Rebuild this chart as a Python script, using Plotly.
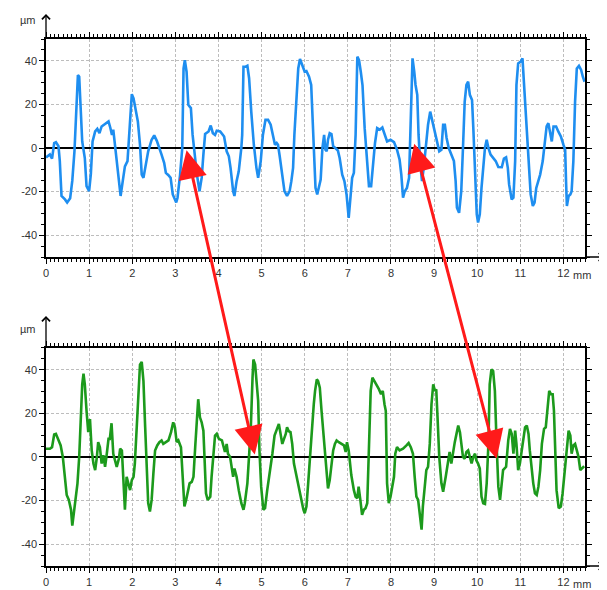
import plotly.graph_objects as go

# ---------------- data ----------------
top_x = [0, 0.09, 0.14, 0.19, 0.23, 0.29, 0.32, 0.36, 0.44, 0.49, 0.56, 0.61, 0.66, 0.70, 0.74, 0.77, 0.80, 0.84, 0.90, 0.94,
         1.00, 1.04, 1.08, 1.14, 1.19, 1.24, 1.29, 1.35, 1.41, 1.45, 1.49, 1.53, 1.56, 1.60, 1.64, 1.69, 1.73, 1.78, 1.83, 1.89,
         1.93, 1.99, 2.03, 2.08, 2.13, 2.18, 2.22, 2.26, 2.32, 2.37, 2.45, 2.51, 2.57, 2.63, 2.68, 2.74, 2.78, 2.84, 2.89, 2.94,
         3.02, 3.05, 3.11, 3.16, 3.19, 3.22, 3.26, 3.30, 3.36, 3.40, 3.44, 3.50, 3.56, 3.61, 3.65, 3.69, 3.77, 3.82, 3.87, 3.92,
         3.96, 4.04, 4.13, 4.19, 4.24, 4.28, 4.34, 4.37, 4.42, 4.47, 4.53, 4.55, 4.58, 4.63, 4.67, 4.71, 4.76, 4.82, 4.88, 4.92,
         4.98, 5.03, 5.09, 5.15, 5.21, 5.26, 5.31, 5.35, 5.38, 5.42, 5.48, 5.53, 5.59, 5.65, 5.69, 5.73, 5.76, 5.81, 5.85, 5.89,
         5.94, 6.00, 6.04, 6.10, 6.15, 6.18, 6.21, 6.25, 6.29, 6.33, 6.37, 6.41, 6.45, 6.48, 6.51, 6.54, 6.58, 6.62, 6.66, 6.71,
         6.77, 6.81, 6.87, 6.92, 6.97, 7.02, 7.06, 7.10, 7.14, 7.18, 7.22, 7.26, 7.30, 7.34, 7.39, 7.44, 7.49, 7.54, 7.59, 7.63,
         7.68, 7.74, 7.80, 7.85, 7.91, 7.99, 8.07, 8.14, 8.20, 8.24, 8.28, 8.32, 8.37, 8.42, 8.46, 8.50, 8.54, 8.57, 8.61, 8.64,
         8.68, 8.72, 8.76, 8.81, 8.86, 8.91, 8.96, 9.02, 9.07, 9.12, 9.17, 9.21, 9.25, 9.29, 9.34, 9.40, 9.46, 9.50, 9.53, 9.58,
         9.63, 9.67, 9.71, 9.75, 9.79, 9.83, 9.88, 9.91, 9.95, 9.99, 10.02, 10.06, 10.10, 10.14, 10.18, 10.22, 10.26, 10.31, 10.37, 10.43,
         10.49, 10.57, 10.62, 10.67, 10.71, 10.74, 10.80, 10.84, 10.88, 10.91, 10.95, 11.01, 11.05, 11.09, 11.13, 11.19, 11.24, 11.29, 11.33, 11.37,
         11.41, 11.46, 11.52, 11.57, 11.61, 11.65, 11.69, 11.73, 11.77, 11.83, 11.88, 11.94, 12.00, 12.04, 12.06, 12.08, 12.12, 12.16, 12.19, 12.23,
         12.27, 12.31, 12.36, 12.41, 12.45, 12.49]
top_y = [-4.3, -3, -4.9, 2.3, 2.7, 0.8, -6, -22, -23.6, -25, -23, -15, -1.5, 16.7, 33.5, 32.7, 16.7, 3, -4.6, -17.5,
         -19.8, -12, 3, 7.6, 8.8, 6.8, 9.9, 10.7, 11.4, 12.2, 9.4, 6, 8.4, 1.5, -6.8, -15.2, -22, -15.2, -8.4, -6,
         6, 24.7, 22.8, 16.7, 12.2, 1.5, -12.2, -13.7, -7.6, -1.5, 3.8, 5.8, 3.3, -0.8, -3, -6.8, -11.4, -12.5, -13.7, -21.3,
         -25, -22.8, -12.2, 0, 36.5, 40.3, 35, 19.8, 18.3, 6, -1.5, -12.2, -19.8, -13.7, -3, 6.4, 7.6, 10.3, 6.8, 6,
         7.9, 7.6, 5.3, -1.5, -3.8, -9.1, -19.8, -22, -15.2, -10.7, 0, 6, 37.3, 37.3, 37.7, 32, 16.7, 1.5, -9.1, -13.7,
         -6, 6, 12.9, 12.9, 10.7, 6, 1.5, 2.3, 1.5, -3.8, -12.2, -19.8, -22, -19.8, -15.2, -9.1, 6, 21.3, 36.5, 40.8,
         38, 35, 35.3, 32.7, 28.9, 13.7, -4.6, -18.3, -21.3, -18.3, -14.5, 0, 6, -0.8, -1.5, 3.8, 6.8, 6.4, 0.8, 0,
         -1.2, -4.6, -12.2, -15.2, -21.3, -32, -24.4, -13.7, -11.4, 6, 41.9, 40.3, 35, 28.9, 9.1, -6, -17.5, -17.5, -6, 2.3,
         9.1, 8.4, 9.4, 6, 3, 3.8, 2.7, -0.8, -5.3, -12.2, -22.8, -19.8, -18.3, -13.7, 21.3, 41.1, 35, 28.9, 24.4, 6,
         -7.6, -15.2, -9.1, 1.5, 10.7, 16.7, 12.2, 6, 1.5, -1.5, -0.8, 10.7, 10.7, 4.6, 0, -3, -6, -15.2, -27.4, -29.7,
         -19.8, 0, 21.3, 28.9, 30.4, 24.4, 22, 9.1, -13.7, -30.4, -34.2, -30.4, -18.3, -9.1, 0, 3.8, 0, -3, -4.6, -6,
         -8.7, -8.8, -4.9, -4.3, -9.1, -16.7, -23.6, -22.8, -6, 28.9, 38.8, 39.6, 41.1, 28.9, 12.2, -6, -21.3, -26.6, -25, -18.3,
         -15.2, -12.2, -6, 1.5, 9.9, 11.4, 7.6, 3, 9.9, 9.9, 7.6, 5.3, 1.5, -0.8, -15.2, -26.6, -22, -21.3, -19.8, -6,
         21.3, 36.5, 37.7, 35.8, 32.7, 30.4]

bottom_x = [0, 0.09, 0.14, 0.19, 0.23, 0.29, 0.34, 0.39, 0.42, 0.44, 0.48, 0.53, 0.58, 0.61, 0.65, 0.70, 0.73, 0.77, 0.80, 0.84,
            0.87, 0.90, 0.94, 0.98, 1.02, 1.06, 1.10, 1.14, 1.18, 1.21, 1.25, 1.29, 1.33, 1.37, 1.41, 1.45, 1.48, 1.52, 1.56, 1.60,
            1.64, 1.69, 1.72, 1.76, 1.79, 1.83, 1.87, 1.91, 1.95, 1.99, 2.03, 2.06, 2.10, 2.14, 2.18, 2.22, 2.26, 2.30, 2.34, 2.37,
            2.41, 2.45, 2.49, 2.53, 2.58, 2.63, 2.68, 2.72, 2.78, 2.84, 2.90, 2.95, 2.99, 3.03, 3.07, 3.11, 3.13, 3.17, 3.21, 3.25,
            3.29, 3.33, 3.38, 3.42, 3.46, 3.49, 3.53, 3.57, 3.61, 3.65, 3.69, 3.71, 3.75, 3.81, 3.84, 3.88, 3.92, 3.96, 4.01, 4.08,
            4.11, 4.15, 4.19, 4.22, 4.27, 4.31, 4.34, 4.37, 4.42, 4.47, 4.53, 4.58, 4.61, 4.67, 4.71, 4.75, 4.79, 4.81, 4.85, 4.88,
            4.92, 4.95, 4.99, 5.04, 5.08, 5.13, 5.19, 5.25, 5.30, 5.35, 5.40, 5.44, 5.48, 5.52, 5.56, 5.59, 5.63, 5.67, 5.71, 5.75,
            5.81, 5.86, 5.92, 5.97, 6.00, 6.04, 6.08, 6.12, 6.16, 6.21, 6.24, 6.28, 6.31, 6.35, 6.39, 6.43, 6.47, 6.51, 6.54, 6.58,
            6.62, 6.66, 6.70, 6.74, 6.79, 6.85, 6.91, 6.95, 6.98, 7.02, 7.08, 7.14, 7.18, 7.22, 7.25, 7.29, 7.33, 7.37, 7.41, 7.45,
            7.49, 7.53, 7.57, 7.62, 7.67, 7.72, 7.77, 7.81, 7.85, 7.88, 7.91, 7.95, 7.99, 8.03, 8.07, 8.10, 8.14, 8.20, 8.28, 8.36,
            8.41, 8.46, 8.51, 8.55, 8.59, 8.63, 8.67, 8.71, 8.74, 8.78, 8.82, 8.86, 8.90, 8.94, 8.98, 9.02, 9.05, 9.08, 9.12, 9.17,
            9.21, 9.27, 9.33, 9.36, 9.40, 9.44, 9.48, 9.52, 9.56, 9.60, 9.64, 9.67, 9.71, 9.75, 9.79, 9.83, 9.87, 9.91, 9.95, 9.98,
            10.02, 10.06, 10.10, 10.14, 10.18, 10.22, 10.26, 10.29, 10.33, 10.37, 10.41, 10.45, 10.49, 10.53, 10.57, 10.60, 10.67, 10.72, 10.76, 10.80,
            10.84, 10.88, 10.91, 10.95, 10.99, 11.03, 11.07, 11.11, 11.15, 11.19, 11.22, 11.26, 11.30, 11.34, 11.38, 11.42, 11.46, 11.50, 11.55, 11.59,
            11.63, 11.67, 11.71, 11.75, 11.78, 11.81, 11.84, 11.89, 11.94, 11.98, 12.02, 12.06, 12.12, 12.16, 12.19, 12.23, 12.27, 12.31, 12.35, 12.39,
            12.43, 12.48]
bottom_y = [3.8, 3.8, 4.5, 10.3, 10.6, 7.6, 5.3, 0, -5.3, -9.1, -17.4, -19.7, -24.2, -31.5, -25.8, -18.2, -12.1, 0, 15.2, 33.3,
            38.2, 33.3, 21.2, 11.4, 17.4, 3, -3, -6, 0, 6.8, 4.5, -3, 0.8, -4.5, 1.5, 8.3, 8.3, 15.5, 1.5, -1.5,
            -4.5, -0.8, 3.8, 3, -12.1, -24.2, -9.1, -12.1, -15.2, -10.6, -9.1, -3, 13.6, 31.8, 42.4, 43.6, 34.8, 13.6, -6, -21.2,
            -25, -19.7, -7.6, 3, 5.3, 6.8, 7.6, 6, 6.8, 7.6, 11.4, 15.9, 13.6, 6.8, 7.6, 6, 4.5, -9.1, -22.7, -19.7,
            -15.2, -12.1, -11.4, -9.1, 4.5, 13.6, 26.5, 18.2, 15.9, 12.1, -6, -16.7, -19.7, -18.2, -9.1, 1.5, 9.8, 10.6, 8.3, 7.6,
            5.3, 2.3, 6, 1.5, 0, -6, -9.1, -5.3, -9.1, -15.2, -21.2, -24.2, -21.2, -12.1, 0, 13.6, 36.4, 44.7, 42.4, 34.8,
            25.8, 3, -13.6, -24.2, -23.5, -15.2, -7.6, 1.5, 9.8, 12.9, 15.2, 10.6, 6, 8.3, 10.6, 13.6, 11.8, 11.4, 6, -3,
            -9.1, -13.6, -19.7, -24.2, -25.8, -22.7, -12.1, 0, 13.6, 24.2, 30.3, 35.6, 34.8, 31.8, 21.2, 10.6, 1.5, -9.1, -14.4, -10.6,
            -3, 3, 6, 7.6, 6.8, 6, 5.3, 2.3, 6.8, 3, -8.3, -15.2, -18.2, -18.9, -13.6, -19.7, -26.5, -24.2, -23.5, -21.2,
            6, 30.3, 36.4, 34.8, 32.6, 31.1, 28.8, 30.3, 24.2, 21.2, -12.1, -21.2, -18.2, -13.6, -9.1, 1.5, 4.5, 3, 3.8, 5.3,
            6.4, 4.5, 1.5, -9.1, -18.2, -19.7, -25.8, -33.3, -22.7, -12.1, -6, -4.5, 6, 24.2, 33.3, 30.3, 31.1, 18.2, 0, -12.1,
            -15.9, -9.1, 0, 2.3, -3, 3, 6.8, 10.6, 14.4, 11.4, 6, 0, -0.8, 2.3, 3, -0.8, -3, 0, 1.5, -1.5,
            -3, -5.3, -18.2, -21.2, -21.5, -12.1, 6, 33.3, 40.2, 39.4, 30.3, 6, -13.6, -19.7, -12.1, -6, -4.5, 7.6, 12.9, 10.6,
            1.5, 12.1, 6, -6, -3, 3, 9.1, 13.6, 14.4, 10.6, 3, -6, -12.1, -16.7, -17.4, -13.6, -6, 6, 12.9, 13.6,
            21.2, 30.3, 28.8, 28.8, 21.2, 1.5, -15.2, -23.5, -22.7, -16.7, -9.1, 1.5, 12.1, 9.8, 1.5, 5.3, 6, 3, 0, -6,
            -5.3, -4.2]

x_tick_vals = list(range(0, 13))
x_tick_text = [str(v) for v in x_tick_vals]
y_tick_vals = [-40, -20, 0, 20, 40]
y_tick_text = ["-40", "-20", "0", "20", "40"]
x_unit = "mm"
y_unit = "µm"

# arrow endpoints: (mm, µm) on top profile -> (mm, µm) on bottom profile
arrow_top_x = [3.26, 8.54]
arrow_top_y = [-1.0, 2.0]
arrow_bot_x = [4.85, 10.46]
arrow_bot_y = [0.5, -1.5]

# ---------------- layout geometry ----------------
# the page body has an 8px default margin, so the figure is a bit smaller and shifted
PAGE_OFF = 8
W, H = 607 - PAGE_OFF, 590 - PAGE_OFF
ML, MT = 46 - PAGE_OFF, 39 - PAGE_OFF
MR = W - (585 - PAGE_OFF)
MB = H - (566 - PAGE_OFF)
PW, PH = W - ML - MR, H - MT - MB
X_RANGE = [0, 12.5]
Y_RANGE = [-50, 50]
TOP_DOM = [0.5863, 1.0]
BOT_DOM = [0.0, 0.4137]


def px_x(v):
    return ML + (v - X_RANGE[0]) / (X_RANGE[1] - X_RANGE[0]) * PW


def px_y(v, dom):
    y_top = MT + (1 - dom[1]) * PH
    y_bot = MT + (1 - dom[0]) * PH
    return y_top + (Y_RANGE[1] - v) / (Y_RANGE[1] - Y_RANGE[0]) * (y_bot - y_top)


tick_font = dict(family="Liberation Sans, Arial, sans-serif", size=11, color="#333333")


def xaxis_style(anchor):
    return dict(
        range=X_RANGE, domain=[0, 1], anchor=anchor,
        tickmode="array", tickvals=x_tick_vals, ticktext=x_tick_text,
        ticks="outside", ticklen=5, tickwidth=1, tickcolor="black",
        showline=True, linecolor="black", linewidth=1.5, mirror="allticks",
        showgrid=True, gridcolor="#bdbdbd", gridwidth=1, griddash="3px,2px",
        zeroline=False, tickfont=tick_font,
        minor=dict(dtick=0.1, tick0=0, ticks="outside", ticklen=3, tickcolor="black", tickwidth=1, showgrid=False),
        automargin=False, fixedrange=True,
    )


def yaxis_style(anchor, dom):
    return dict(
        range=Y_RANGE, domain=dom, anchor=anchor,
        tickmode="array", tickvals=y_tick_vals, ticktext=y_tick_text,
        ticks="outside", ticklen=5, tickwidth=1, tickcolor="black",
        showline=True, linecolor="black", linewidth=1.5, mirror="allticks",
        showgrid=True, gridcolor="#bdbdbd", gridwidth=1, griddash="3px,2px",
        zeroline=True, zerolinecolor="black", zerolinewidth=1.5,
        tickfont=tick_font,
        minor=dict(dtick=5, tick0=0, ticks="outside", ticklen=3, tickcolor="black", tickwidth=1, showgrid=False),
        automargin=False, fixedrange=True,
    )


fig = go.Figure()
fig.add_trace(go.Scatter(x=top_x, y=top_y, mode="lines", xaxis="x", yaxis="y",
                         line=dict(color="#1e8ef0", width=2.6), showlegend=False, hoverinfo="skip"))
fig.add_trace(go.Scatter(x=bottom_x, y=bottom_y, mode="lines", xaxis="x2", yaxis="y2",
                         line=dict(color="#1c9a1c", width=2.6), showlegend=False, hoverinfo="skip"))

annotations = []
unit_font = dict(family="Liberation Sans, Arial, sans-serif", size=11, color="#333333")
for dom, arrow_len in ((TOP_DOM, 25), (BOT_DOM, 32)):
    top_paper = dom[1]
    bot_paper = dom[0]
    annotations.append(dict(xref="paper", yref="paper", x=-18 / PW, y=top_paper + 19 / PH,
                            text=y_unit, showarrow=False, xanchor="center", yanchor="middle", font=unit_font))
    # y-axis arrow (pointing up from the top-left corner)
    annotations.append(dict(xref="paper", yref="paper", x=0, y=top_paper + arrow_len / PH, ax=0, ay=arrow_len,
                            text="", showarrow=True, arrowhead=4, arrowsize=1.2, arrowwidth=1.3,
                            arrowcolor="black", standoff=0))
    # x-axis arrow (pointing right from the bottom-right corner)
    annotations.append(dict(xref="paper", yref="paper", x=1 + 19 / PW, y=bot_paper, ax=-20, ay=0,
                            text="", showarrow=True, arrowhead=4, arrowsize=1.2, arrowwidth=1.3,
                            arrowcolor="black", standoff=0))
    # "mm" unit after the last x tick label
    annotations.append(dict(xref="paper", yref="paper", x=(px_x(12) - ML + 8) / PW, y=bot_paper - 18 / PH,
                            text=x_unit, showarrow=False, xanchor="left", yanchor="middle", font=unit_font))

# red double-headed arrows linking the two profiles
for tx, ty, bx, by in zip(arrow_top_x, arrow_top_y, arrow_bot_x, arrow_bot_y):
    dx = px_x(bx) - px_x(tx)
    dy = px_y(by, BOT_DOM) - px_y(ty, TOP_DOM)
    annotations.append(dict(xref="x", yref="y", x=tx, y=ty, ax=dx, ay=dy, axref="pixel", ayref="pixel",
                            text="", showarrow=True, arrowside="end+start",
                            arrowhead=2, startarrowhead=2, arrowsize=1.9, startarrowsize=1.9,
                            arrowwidth=3, arrowcolor="#ff1a1a", standoff=0, startstandoff=0))

fig.update_layout(
    width=W, height=H,
    margin=dict(l=ML, r=MR, t=MT, b=MB, pad=0),
    paper_bgcolor="white", plot_bgcolor="white",
    xaxis=xaxis_style("y"), yaxis=yaxis_style("x", TOP_DOM),
    xaxis2=xaxis_style("y2"), yaxis2=yaxis_style("x2", BOT_DOM),
    annotations=annotations,
    showlegend=False,
)

fig.write_html("out.html", config={"displayModeBar": False})
